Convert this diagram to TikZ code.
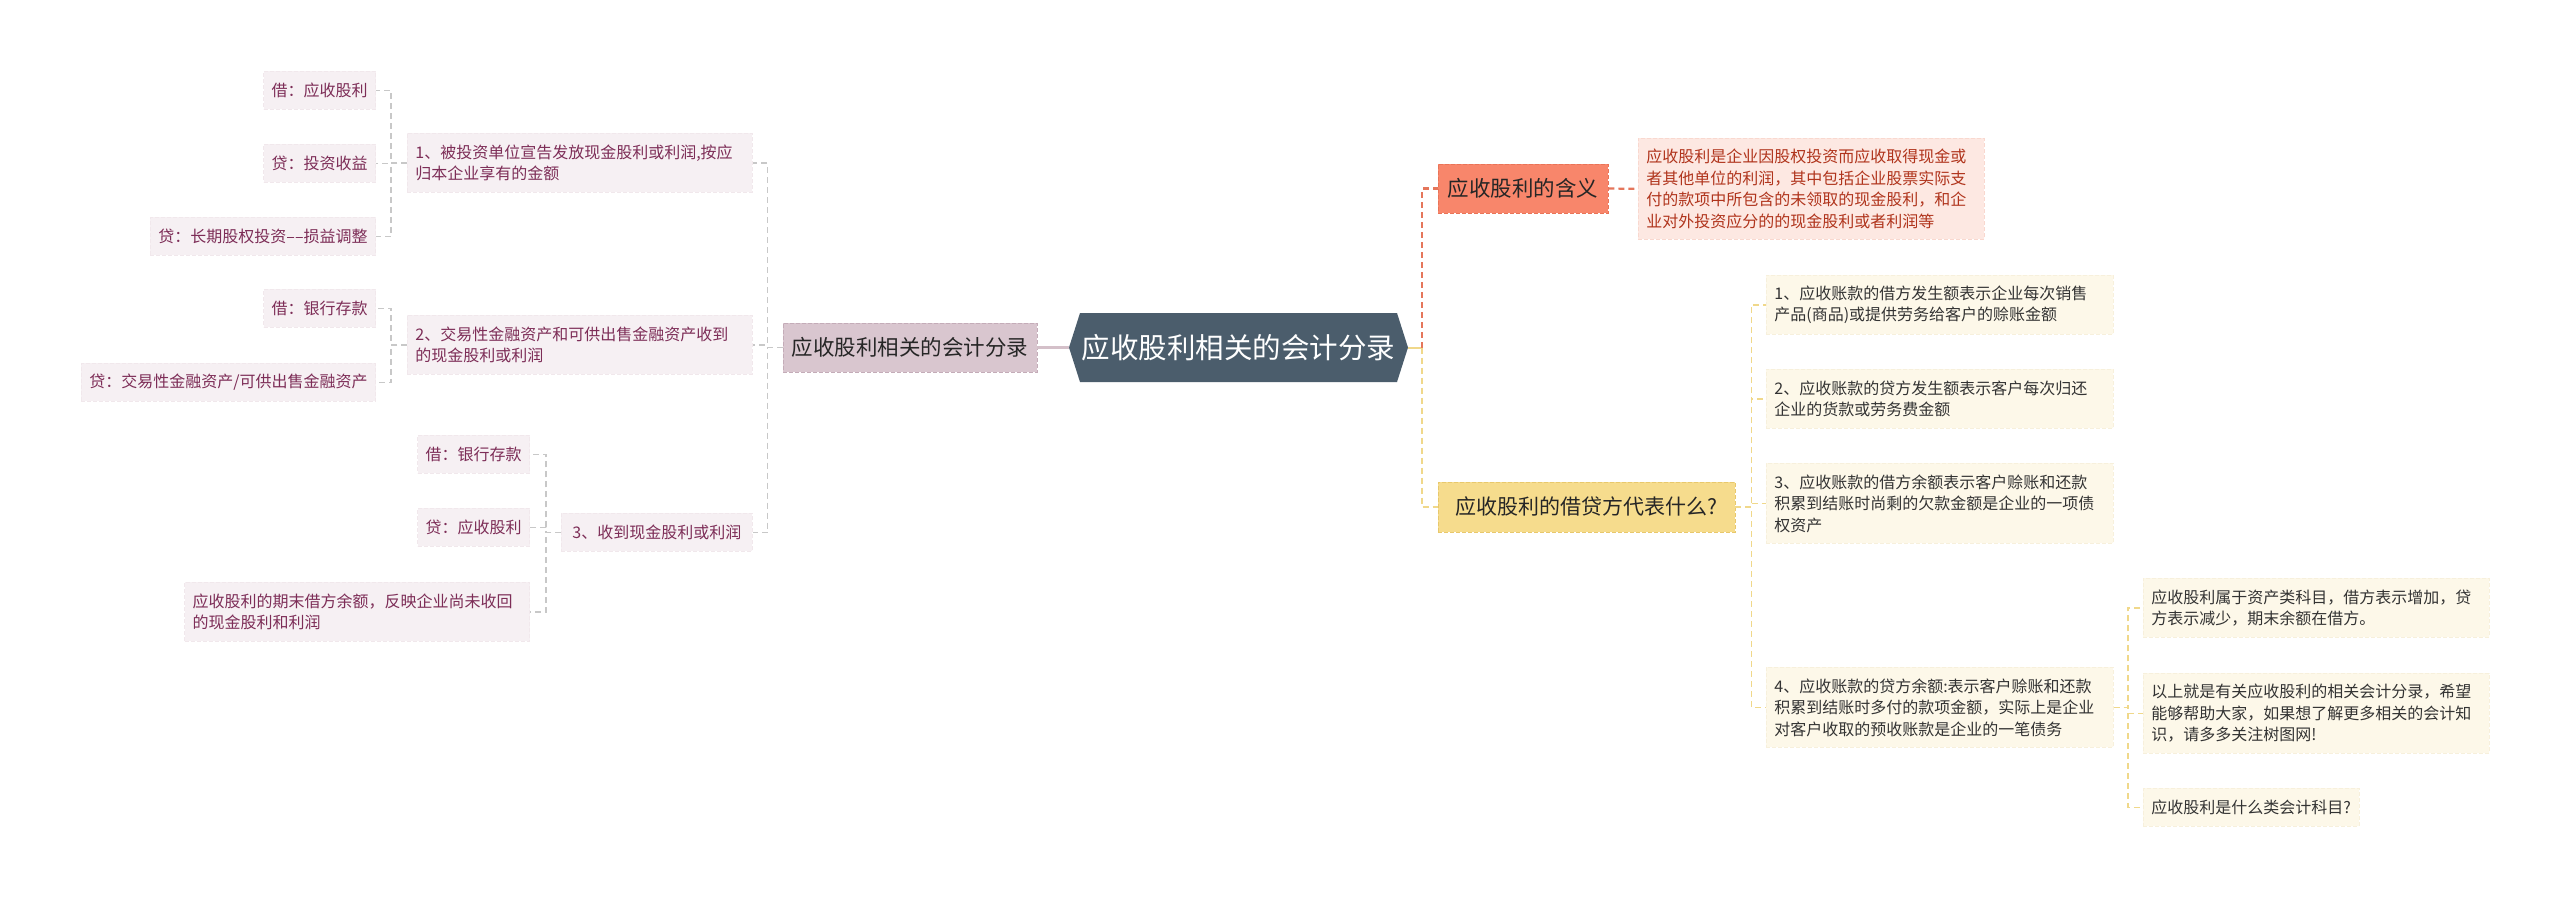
\documentclass[tikz,border=0pt]{standalone}
\usepackage{fontspec}
\setmainfont{Noto Sans CJK SC}
\definecolor{lfill}{HTML}{F6F0F3}
\definecolor{lborder}{HTML}{F1E8EC}
\definecolor{ltext}{HTML}{7D2D57}
\definecolor{lcon}{HTML}{C8C8C8}
\definecolor{l1fill}{HTML}{D9C6CF}
\definecolor{l1border}{HTML}{C4ACB8}
\definecolor{l1line}{HTML}{D4C0C9}
\definecolor{cfill}{HTML}{4B5D6C}
\definecolor{r1fill}{HTML}{F8866B}
\definecolor{r1border}{HTML}{E97458}
\definecolor{dfill}{HTML}{FDE8E2}
\definecolor{dborder}{HTML}{F9D8CF}
\definecolor{dtext}{HTML}{B0341C}
\definecolor{rcon}{HTML}{E5765B}
\definecolor{r2fill}{HTML}{F6DC8D}
\definecolor{r2border}{HTML}{E8C86C}
\definecolor{ifill}{HTML}{FDF8E9}
\definecolor{iborder}{HTML}{F7F0DC}
\definecolor{itext}{HTML}{333333}
\definecolor{ycon}{HTML}{F0D88A}
\begin{document}
\begin{tikzpicture}[x=1pt,y=-1pt,
  box/.style={rectangle, inner xsep=8pt, inner ysep=0pt, align=left,
    font=\fontsize{16}{21.5}\selectfont, dash pattern=on 4pt off 2pt, line width=0.8pt},
  lbox/.style={box, fill=lfill, draw=lborder, text=ltext},
  ibox/.style={box, fill=ifill, draw=iborder, text=itext},
  hA/.style={minimum height=38pt},
  hB/.style={minimum height=59pt},
  hC/.style={minimum height=80pt},
  hD/.style={minimum height=101pt},
  lconn/.style={draw=lcon, line width=1.4pt, dash pattern=on 6pt off 4pt},
  rconn/.style={draw=rcon, line width=2.2pt, dash pattern=on 6pt off 4pt},
  yconn/.style={draw=ycon, line width=1.6pt, dash pattern=on 6pt off 4pt},
]
\useasboundingbox[fill=white] (0,0) rectangle (2560,897);

% ---------- left side ----------
\node[lbox,hA,anchor=north east] (a1) at (376,71) {借：应收股利};
\node[lbox,hA,anchor=north east] (a2) at (376,144) {贷：投资收益};
\node[lbox,hA,anchor=north east] (a3) at (376,217) {贷：长期股权投资–{}–损益调整};
\node[lbox,hB,anchor=north west,text width=329pt] (n1) at (407,133)
  {1、被投资单位宣告发放现金股利或利润,按应\\归本企业享有的金额};

\node[lbox,hA,anchor=north east] (b1) at (376,289) {借：银行存款};
\node[lbox,hA,anchor=north east] (b2) at (376,363) {贷：交易性金融资产/可供出售金融资产};
\node[lbox,hB,anchor=north west,text width=329pt] (n2) at (407,315)
  {2、交易性金融资产和可供出售金融资产收到\\的现金股利或利润};

\node[lbox,hA,anchor=north east] (c1) at (530,435) {借：银行存款};
\node[lbox,hA,anchor=north east] (c2) at (530,508) {贷：应收股利};
\node[lbox,hB,anchor=north east,text width=329pt] (c3) at (530,582)
  {应收股利的期末借方余额，反映企业尚未收回\\的现金股利和利润};
\node[lbox,hA,anchor=north west,minimum width=191pt] (n3) at (561,513) {3、收到现金股利或利润};

\node[rectangle, fill=l1fill, draw=l1border, dash pattern=on 4pt off 2pt, line width=0.8pt,
  minimum width=254pt, minimum height=49pt, inner xsep=0pt,
  font=\fontsize{21.5}{26}\selectfont, text=black!85] (L1) at (910,347.5) {应收股利相关的会计分录};

% ---------- centre ----------
\fill[cfill] (1069,347.5) -- (1080,313) -- (1397,313) -- (1408,347.5) -- (1397,382) -- (1080,382) -- cycle;
\node[minimum width=339pt, minimum height=69pt, inner sep=0pt,
  font=\fontsize{28.5}{34}\selectfont, text=white] (C) at (1238.5,347.5) {应收股利相关的会计分录};

% ---------- right side ----------
\node[rectangle, fill=r1fill, draw=r1border, dash pattern=on 4pt off 2pt, line width=0.8pt,
  minimum width=170pt, minimum height=49pt, inner xsep=0pt,
  font=\fontsize{21.5}{26}\selectfont, text=black!85] (R1) at (1523,188.5) {应收股利的含义};
\node[box, fill=dfill, draw=dborder, text=dtext, hD, anchor=north west, text width=330pt] (D) at (1638,138)
  {应收股利是企业因股权投资而应收取得现金或\\者其他单位的利润，其中包括企业股票实际支\\付的款项中所包含的未领取的现金股利，和企\\业对外投资应分的的现金股利或者利润等};

\node[rectangle, fill=r2fill, draw=r2border, dash pattern=on 4pt off 2pt, line width=0.8pt,
  minimum width=297pt, minimum height=50pt, inner xsep=0pt,
  font=\fontsize{21}{26}\selectfont, text=black!85] (R2) at (1586.5,507) {应收股利的借贷方代表什么?};

\node[ibox,hB,anchor=north west,text width=331pt] (i1) at (1766,275)
  {1、应收账款的借方发生额表示企业每次销售\\产品(商品)或提供劳务给客户的赊账金额};
\node[ibox,hB,anchor=north west,text width=331pt] (i2) at (1766,369)
  {2、应收账款的贷方发生额表示客户每次归还\\企业的货款或劳务费金额};
\node[ibox,hC,anchor=north west,text width=331pt] (i3) at (1766,463)
  {3、应收账款的借方余额表示客户赊账和还款\\积累到结账时尚剩的欠款金额是企业的一项债\\权资产};
\node[ibox,hC,anchor=north west,text width=331pt] (i4) at (1766,667)
  {4、应收账款的贷方余额:表示客户赊账和还款\\积累到结账时多付的款项金额，实际上是企业\\对客户收取的预收账款是企业的一笔债务};

\node[ibox,hB,anchor=north west,text width=330pt] (f1) at (2143,578)
  {应收股利属于资产类科目，借方表示增加，贷\\方表示减少，期末余额在借方。};
\node[ibox,hC,anchor=north west,text width=330pt] (f2) at (2143,673)
  {以上就是有关应收股利的相关会计分录，希望\\能够帮助大家，如果想了解更多相关的会计知\\识，请多多关注树图网!};
\node[ibox,hA,anchor=north west] (f3) at (2143,788) {应收股利是什么类会计科目?};

% ---------- connectors ----------
\draw[lconn] (n1.west) -- ++(-16,0) |- (a1.east);
\draw[lconn] (n1.west) -- ++(-16,0) |- (a2.east);
\draw[lconn] (n1.west) -- ++(-16,0) |- (a3.east);
\draw[lconn] (n2.west) -- ++(-16,0) |- (b1.east);
\draw[lconn] (n2.west) -- ++(-16,0) |- (b2.east);
\draw[lconn] (n3.west) -- ++(-15,0) |- (c1.east);
\draw[lconn] (n3.west) -- ++(-15,0) |- (c2.east);
\draw[lconn] (n3.west) -- ++(-15,0) |- (c3.east);
\draw[lconn] (L1.west) -- ++(-15,0) |- (n1.east);
\draw[lconn] (L1.west) -- ++(-15,0) |- (n2.east);
\draw[lconn] (L1.west) -- ++(-15,0) |- (n3.east);
\draw[draw=l1line, line width=2.5pt] (L1.east) -- (C.west);

\coordinate (cb) at ([xshift=14pt]C.east);
\draw[draw=ycon, line width=2pt] (C.east) -- (cb);
\draw[rconn] (cb) |- (R1.west);
\draw[yconn] (cb) |- (R2.west);
\draw[rconn] (R1.east) -- (D.west);
\draw[yconn] (R2.east) -- ++(16,0) |- (i1.west);
\draw[yconn] (R2.east) -- ++(16,0) |- (i2.west);
\draw[yconn] (R2.east) -- ++(16,0) |- (i3.west);
\draw[yconn] (R2.east) -- ++(16,0) |- (i4.west);
\draw[yconn] (i4.east) -- ++(14,0) |- (f1.west);
\draw[yconn] (i4.east) -- ++(14,0) |- (f2.west);
\draw[yconn] (i4.east) -- ++(14,0) |- (f3.west);
\end{tikzpicture}
\end{document}
